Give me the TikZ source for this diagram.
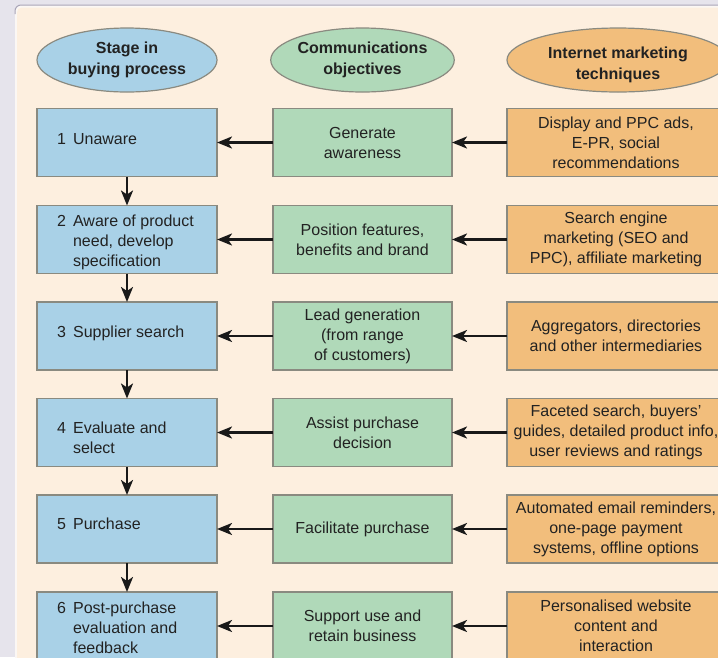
\documentclass[tikz,border=0pt]{standalone}
\usepackage{fontspec}
\setmainfont{Liberation Sans}
\usetikzlibrary{arrows.meta,shapes.geometric}
\definecolor{bgl}{HTML}{E6E4EC}
\definecolor{rimline}{HTML}{A9A5B8}
\definecolor{rimlight}{HTML}{FBF7F4}
\definecolor{cream}{HTML}{FDEFDF}
\definecolor{blu}{HTML}{A9D1E7}
\definecolor{grn}{HTML}{B0D9B9}
\definecolor{org}{HTML}{F2BE7C}
\definecolor{edge}{HTML}{8A8A80}
\definecolor{ink}{HTML}{222222}
\begin{document}
\begin{tikzpicture}[x=1pt,y=-1pt,
  txt/.style={text=ink, font=\fontsize{16}{20}\selectfont},
  hdr/.style={ellipse, draw=edge, line width=1.2pt, minimum height=64pt, inner sep=0pt, outer sep=0pt,
    align=center, text=ink, font=\fontsize{16}{20.5}\selectfont\bfseries},
  box/.style={draw=edge, line width=1.3pt, minimum height=68pt, inner sep=0pt, outer sep=0pt,
    align=center, txt},
  bluebox/.style={box, fill=blu, minimum width=180pt},
  greenbox/.style={box, fill=grn, minimum width=179pt},
  orangebox/.style={box, fill=org, minimum width=218pt},
  stagetext/.style={txt, anchor=base west, inner sep=0pt},
  conn/.style={line width=2.4pt, draw=black!90, -{Stealth[length=15pt,width=12pt,inset=4pt]}}
]
\clip (0,0) rectangle (718,657);
% background and panel
\fill[bgl] (0,0) rectangle (718,657);
\fill[rimlight, rounded corners=6pt] (15,5) rectangle (760,720);
\fill[cream, rounded corners=5pt] (17,7.5) rectangle (760,720);
\draw[rimline, line width=1pt, rounded corners=6pt] (15,14) -- (15,5) -- (760,5);

% headers
\node[hdr, fill=blu, minimum width=180pt] (h1) at (127,60) {Stage in\\buying process};
\node[hdr, fill=grn, minimum width=179pt] (h2) at (362.5,60) {Communications\\objectives};
\node[hdr, fill=org, minimum width=222pt] (h3) at (618,60) {\raisebox{-5pt}[\height][\depth]{\begin{tabular}{@{}c@{}}Internet marketing\\[0.5pt]techniques\end{tabular}}};

% stage boxes
\node[bluebox] (b1) at (127,142.5) {};
\node[bluebox] (b2) at (127,239.5) {};
\node[bluebox] (b3) at (127,336) {};
\node[bluebox] (b4) at (127,432.5) {};
\node[bluebox] (b5) at (127,529) {};
\node[bluebox] (b6) at (127,626) {};

\node[stagetext] (s1) at (57,144) {\begin{tabular}[t]{@{}l@{\hspace{7pt}}l@{}}1 & Unaware\end{tabular}};
\node[stagetext] (s2) at (57,226) {\begin{tabular}[t]{@{}l@{\hspace{7pt}}l@{}}2 & Aware of product\\ & need, develop\\ & specification\end{tabular}};
\node[stagetext] (s3) at (57,337) {\begin{tabular}[t]{@{}l@{\hspace{7pt}}l@{}}3 & Supplier search\end{tabular}};
\node[stagetext] (s4) at (57,433) {\begin{tabular}[t]{@{}l@{\hspace{7pt}}l@{}}4 & Evaluate and\\ & select\end{tabular}};
\node[stagetext] (s5) at (57,529) {\begin{tabular}[t]{@{}l@{\hspace{7pt}}l@{}}5 & Purchase\end{tabular}};
\node[stagetext] (s6) at (57,613) {\begin{tabular}[t]{@{}l@{\hspace{7pt}}l@{}}6 & Post-purchase\\ & evaluation and\\ & feedback\end{tabular}};

% objectives
\node[greenbox] (g1) at (362.5,142.5) {Generate\\awareness};
\node[greenbox] (g2) at (362.5,239.5) {Position features,\\benefits and brand};
\node[greenbox] (g3) at (362.5,336) {Lead generation\\(from range\\of customers)};
\node[greenbox] (g4) at (362.5,432.5) {Assist purchase\\decision};
\node[greenbox] (g5) at (362.5,529) {Facilitate purchase};
\node[greenbox] (g6) at (362.5,626) {Support use and\\retain business};

% techniques
\node[orangebox] (o1) at (616,142.5) {Display and PPC ads,\\E-PR, social\\recommendations};
\node[orangebox] (o2) at (616,239.5) {Search engine\\marketing (SEO and\\PPC), affiliate marketing};
\node[orangebox] (o3) at (616,336) {Aggregators, directories\\and other intermediaries};
\node[orangebox] (o4) at (616,432.5) {Faceted search, buyers’\\guides, detailed product info,\\user reviews and ratings};
\node[orangebox] (o5) at (616,529) {Automated email reminders,\\one-page payment\\systems, offline options};
\node[orangebox] (o6) at (616,626) {Personalised website\\content and\\interaction};

% connectors
\foreach \i in {1,...,6}{
  \draw[conn] (g\i.west) -- (b\i.east);
  \draw[conn] (o\i.west) -- (g\i.east);
}
\foreach \i/\j in {1/2,2/3,3/4,4/5,5/6}{
  \draw[conn] (b\i.south) -- (b\j.north);
}
\end{tikzpicture}
\end{document}
